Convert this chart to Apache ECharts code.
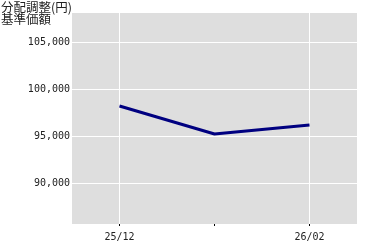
<!DOCTYPE html>
<html>
<head>
<meta charset="utf-8">
<style>
html,body{margin:0;padding:0;background:#fff;}
#c{width:380px;height:250px;position:relative;}
</style>
<script src="https://cdn.jsdelivr.net/npm/echarts@6/dist/echarts.min.js"></script>
</head>
<body>
<div id="c"></div>
<script>
const categories = ["25/12", "26/01", "26/02"];
const tickLabels = ["25/12", "", "26/02"];
const navValues = [98190, 95210, 96170];
const gridCategories = ["25/12", "26/02"];
const yMin = 85640;
const yMax = 108085;
const titleLines = ["分配調整(円)", "基準価額"];

const chart = echarts.init(document.getElementById('c'), null, {renderer: 'canvas'});
chart.setOption({
  animation: false,
  backgroundColor: '#ffffff',
  title: {
    text: titleLines.join('\n'),
    left: 1, top: 1, padding: 0,
    textStyle: {fontFamily: '"Noto Sans CJK JP", sans-serif', fontSize: 12.5, lineHeight: 12, fontWeight: 'normal', color: '#222'}
  },
  grid: {left: 72, right: 23, top: 13, bottom: 26, show: true, backgroundColor: '#dedede', borderWidth: 0},
  xAxis: {
    type: 'category',
    data: categories,
    boundaryGap: true,
    axisLine: {show: false},
    axisTick: {show: true, alignWithLabel: true, interval: 0, length: 2, lineStyle: {color: '#000', width: 1}},
    axisLabel: {
      interval: 0, margin: 8,
      fontFamily: '"DejaVu Sans Mono", monospace', fontSize: 10, color: '#222',
      formatter: (v, i) => tickLabels[i]
    },
    splitLine: {show: false}
  },
  yAxis: {
    type: 'value',
    min: yMin, max: yMax,
    splitNumber: 5,
    axisLine: {show: false},
    axisTick: {show: false},
    axisLabel: {
      margin: 2, showMinLabel: false, showMaxLabel: false,
      fontFamily: '"DejaVu Sans Mono", monospace', fontSize: 10, color: '#222',
      formatter: v => v.toLocaleString('en-US')
    },
    splitLine: {show: true, showMinLine: false, showMaxLine: false, lineStyle: {color: '#ffffff', width: 1}}
  },
  series: [
    {
      type: 'line', z: 1, silent: true,
      data: navValues, showSymbol: false, lineStyle: {opacity: 0},
      markLine: {
        silent: true, symbol: 'none', label: {show: false},
        lineStyle: {color: '#ffffff', width: 1, type: 'solid'},
        data: gridCategories.map(c => ({xAxis: c}))
      }
    },
    {
      type: 'line', z: 5,
      data: navValues,
      showSymbol: false,
      lineStyle: {color: '#000080', width: 3},
      itemStyle: {color: '#000080'}
    }
  ]
});
</script>
</body>
</html>
